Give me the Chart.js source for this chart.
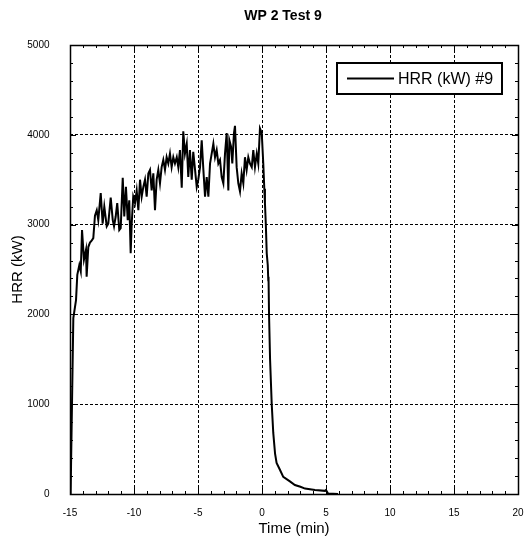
<!DOCTYPE html>
<html>
<head>
<meta charset="utf-8">
<script src="https://cdn.jsdelivr.net/npm/chart.js@4/dist/chart.umd.min.js"></script>
<style>
html,body{margin:0;padding:0;background:#fff;}
#wrap{width:527px;height:540px;position:relative;}
</style>
</head>
<body>
<div id="wrap"><canvas id="c" width="527" height="540"></canvas></div>
<script>
const chartTitle = "WP 2 Test 9";
const xTitle = "Time (min)";
const yTitle = "HRR (kW)";
const seriesLabel = "HRR (kW) #9";
const xTicks = [-15, -10, -5, 0, 5, 10, 15, 20];
const yTicks = [0, 1000, 2000, 3000, 4000, 5000];

const timeMin = [
 -14.95, -14.92, -14.74, -14.53, -14.43, -14.27, -14.16, -14.06, -13.91, -13.75,
 -13.70, -13.57, -13.44, -13.31, -13.18, -13.05, -12.91, -12.79, -12.60, -12.45,
 -12.32, -12.13, -12.01, -11.82, -11.66, -11.56, -11.43, -11.31, -11.15, -11.04,
 -10.88, -10.76, -10.63, -10.49, -10.37, -10.26, -10.18, -10.06, -9.92, -9.79,
 -9.66, -9.53, -9.40, -9.27, -9.14, -9.01, -8.88, -8.75, -8.62, -8.49,
 -8.36, -8.23, -8.10, -7.97, -7.84, -7.71, -7.58, -7.45, -7.32, -7.19,
 -7.06, -6.93, -6.80, -6.66, -6.54, -6.41, -6.27, -6.15, -6.02, -5.88,
 -5.76, -5.63, -5.49, -5.37, -5.23, -5.10, -4.98, -4.84, -4.71, -4.58,
 -4.45, -4.32, -4.19, -4.06, -3.93, -3.80, -3.67, -3.54, -3.41, -3.28,
 -3.15, -3.02, -2.89, -2.76, -2.63, -2.55, -2.42, -2.32, -2.19, -2.11,
 -1.98, -1.85, -1.72, -1.59, -1.46, -1.33, -1.20, -1.07, -0.94, -0.80,
 -0.68, -0.55, -0.41, -0.29, -0.16, -0.02, 0.10, 0.18, 0.23, 0.30,
 0.37, 0.45, 0.49, 0.51, 0.55, 0.63, 0.76, 0.88, 1.02, 1.14,
 1.40, 1.66, 2.18, 2.57, 3.00, 3.36, 4.14, 4.92, 5.00, 5.16,
 5.94
];
const hrrKW = [
 0, 300, 1960, 2160, 2440, 2550, 2480, 2940, 2610, 2720,
 2420, 2750, 2800, 2820, 2850, 3100, 3160, 3050, 3350, 3010,
 3200, 2980, 3010, 3300, 3050, 2980, 3090, 3240, 2940, 2960,
 3520, 3090, 3420, 3050, 3270, 2680, 3010, 3310, 3240, 3380,
 3160, 3500, 3310, 3420, 3500, 3310, 3570, 3610, 3380, 3570,
 3160, 3500, 3610, 3460, 3640, 3720, 3610, 3750, 3680, 3790,
 3640, 3750, 3680, 3750, 3640, 3830, 3410, 4040, 3790, 3900,
 3530, 3830, 3500, 3810, 3610, 3420, 3500, 3640, 3940, 3610,
 3310, 3530, 3310, 3680, 3790, 3900, 3750, 3830, 3680, 3720,
 3530, 3460, 3790, 4020, 3380, 3940, 3870, 3680, 4020, 4100,
 3640, 3460, 3370, 3570, 3460, 3750, 3610, 3750, 3680, 3640,
 3830, 3640, 3790, 3680, 4070, 4020, 3680, 3400, 3240, 3000,
 2680, 2550, 2380, 2420, 2000, 1500, 1000, 680, 450, 345,
 270, 190, 140, 100, 80, 60, 45, 35, 45, 5,
 0
];

const points = timeMin.map((t, i) => ({x: t, y: hrrKW[i]}));
const FONT = "'Liberation Sans', Arial, sans-serif";

const framePlugin = {
  id: 'framePlugin',
  afterDatasetsDraw(chart) {
    const {ctx, chartArea: a, scales} = chart;
    const xs = scales.x, ys = scales.y;
    ctx.save();
    ctx.strokeStyle = '#000';
    ctx.lineWidth = 1;
    ctx.beginPath();
    for (let v = -15; v <= 20; v += 1) {
      const px = Math.round(xs.getPixelForValue(v)) + 0.5;
      const len = (v % 5 === 0) ? 6 : 3;
      ctx.moveTo(px, a.bottom); ctx.lineTo(px, a.bottom - len);
      ctx.moveTo(px, a.top); ctx.lineTo(px, a.top + len);
    }
    for (let v = 0; v <= 5000; v += 200) {
      const py = Math.round(ys.getPixelForValue(v)) + 0.5;
      const len = (v % 1000 === 0) ? 6 : 3;
      ctx.moveTo(a.left, py); ctx.lineTo(a.left + len, py);
      ctx.moveTo(a.right, py); ctx.lineTo(a.right - len, py);
    }
    ctx.stroke();
    ctx.lineWidth = 1.5;
    ctx.strokeRect(Math.round(a.left) + 0.5, Math.round(a.top) + 0.5,
                   Math.round(a.right - a.left), Math.round(a.bottom - a.top));
    // legend
    const lx = a.right - 181, ly = a.top + 18, lw = 165, lh = 31;
    ctx.fillStyle = '#fff';
    ctx.fillRect(lx, ly, lw, lh);
    ctx.lineWidth = 2;
    ctx.strokeRect(lx, ly, lw, lh);
    ctx.beginPath();
    ctx.lineWidth = 2;
    ctx.moveTo(lx + 10, ly + lh / 2);
    ctx.lineTo(lx + 57, ly + lh / 2);
    ctx.stroke();
    ctx.fillStyle = '#000';
    ctx.font = "16px " + FONT;
    ctx.textBaseline = 'middle';
    ctx.textAlign = 'left';
    ctx.fillText(chart.data.datasets[0].label, lx + 61, ly + lh / 2 + 1);
    // title
    ctx.font = "bold 14px " + FONT;
    ctx.textAlign = 'center';
    ctx.textBaseline = 'middle';
    ctx.fillText(chartTitle, (a.left + a.right) / 2 - 11, 16);
    ctx.restore();
  }
};

function zeroPad(s) { s.paddingLeft = 0; s.paddingRight = 0; s.paddingTop = 0; s.paddingBottom = 0; }

new Chart(document.getElementById('c'), {
  type: 'line',
  data: {
    datasets: [{
      label: seriesLabel,
      data: points,
      borderColor: '#000',
      borderWidth: 2,
      pointRadius: 0,
      tension: 0,
      fill: false
    }]
  },
  options: {
    responsive: false,
    animation: false,
    layout: {padding: {left: 0, right: 9, top: 45, bottom: 0}},
    plugins: {
      legend: {display: false},
      title: {display: false},
      tooltip: {enabled: false}
    },
    scales: {
      x: {
        type: 'linear',
        min: -15, max: 20,
        afterFit(s) { s.height = 46; zeroPad(s); },
        afterBuildTicks(s) { s.ticks = xTicks.map(v => ({value: v})); },
        ticks: {color: '#000', font: {family: FONT, size: 10}, padding: 13, maxRotation: 0,
                callback: v => String(v)},
        grid: {color: '#000', lineWidth: 1, drawTicks: false, tickLength: 0},
        border: {display: false, dash: [3, 2]},
        title: {display: true, text: xTitle, color: '#000', font: {family: FONT, size: 15}, padding: {top: 0, bottom: 2}}
      },
      y: {
        type: 'linear',
        min: 0, max: 5000,
        afterFit(s) { s.width = 70; zeroPad(s); },
        afterBuildTicks(s) { s.ticks = yTicks.map(v => ({value: v})); },
        ticks: {color: '#000', font: {family: FONT, size: 10}, padding: 20.5,
                callback: v => String(v)},
        grid: {color: '#000', lineWidth: 1, drawTicks: false, tickLength: 0},
        border: {display: false, dash: [3, 2]},
        title: {display: true, text: yTitle, color: '#000', font: {family: FONT, size: 15}, padding: {top: 9, bottom: 0}}
      }
    }
  },
  plugins: [framePlugin]
});
</script>
</body>
</html>
